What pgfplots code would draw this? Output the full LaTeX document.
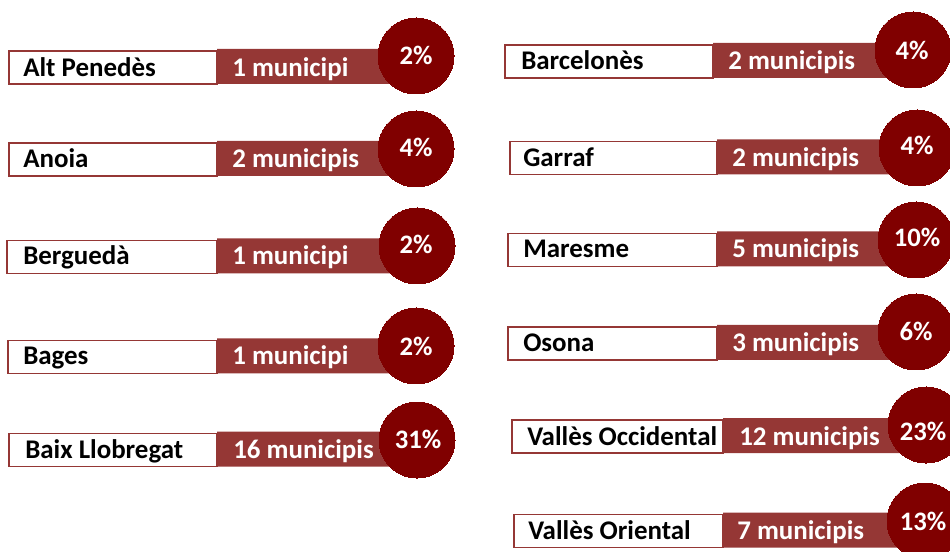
\documentclass[border=0pt]{standalone}
\usepackage{fontspec}
\setmainfont{Carlito}
\usepackage{pgfplots}
\usepackage{pgfplotstable}
\pgfplotsset{compat=1.18}
\definecolor{barred}{HTML}{953735}
\definecolor{circred}{HTML}{800000}

% one row per comarca, positions in pixels of the 950x552 layout
\pgfplotstableread[col sep=comma]{
name,xl,xr,yc,cx,cy,lx,mx,ty,px,py,muni,pct
Alt Penedès,9,217,67.5,416,56,23,232,77,416,65,1 municipi,2
Anoia,9,217,159.5,416,149,23,232,168,416,157,2 municipis,4
Berguedà,7,217,257,417,246,23,232,265,416,254,1 municipi,2
Bages,8,217,357,416,346,23,232,365,416,355,1 municipi,2
Baix Llobregat,9,217,450,417,440,25,233,458,418,448,16 municipis,31
Barcelonès,505,713,61.5,913,50,521,728,70,912,60,2 municipis,4
Garraf,510,717,158,917,148,523,732,167,917,155,2 municipis,4
Maresme,508,717,250,916,240,523,732,258,917,247,5 municipis,10
Osona,508,717,343.5,916,332,523,732,352,916,340,3 municipis,6
Vallès Occidental,512,723,436.5,926,425,527,739,445,923,440,12 municipis,23
Vallès Oriental,514,723,531,925,521,528,737,539,923,530,7 municipis,13
}\rows

\pgfplotsset{
  panel/.style={scale only axis, width=712.5pt, height=414pt,
    xmin=0, xmax=950, ymin=0, ymax=552, y dir=reverse, hide axis},
}

\begin{document}
\begin{tikzpicture}
\begin{axis}[panel, xbar stacked, bar width=33]
  \addplot[draw=none, fill=none] table[x=xl, y=yc] \rows;
  \addplot[fill=white, draw=barred, line width=1.1pt]
    table[x expr=\thisrow{xr}-\thisrow{xl}, y=yc] \rows;
  \addplot[fill=barred, draw=none, bar width=35, bar shift=-1]
    table[x expr=\thisrow{cx}-\thisrow{xr}, y=yc] \rows;
\end{axis}
\begin{axis}[panel, clip marker paths=true]
  \addplot[only marks, mark=*, mark size=28.5pt, mark options={fill=circred, draw=circred, line width=0pt}]
    table[x=cx, y=cy] \rows;
  % comarca names
  \addplot[draw=none, mark=none, nodes near coords, point meta=explicit symbolic,
    nodes near coords align={anchor=base west},
    nodes near coords style={anchor=base west, inner sep=0pt, text=black,
      font=\fontsize{20.2}{24}\selectfont\bfseries}]
    table[x=lx, y=ty, meta=name] \rows;
  % number of municipalities
  \addplot[draw=none, mark=none, nodes near coords, point meta=explicit symbolic,
    nodes near coords align={anchor=base west},
    nodes near coords style={anchor=base west, inner sep=0pt, text=white,
      font=\fontsize{20.2}{24}\selectfont\bfseries}]
    table[x=mx, y=ty, meta=muni] \rows;
  % share
  \addplot[draw=none, mark=none, nodes near coords={\pgfplotspointmeta\%}, point meta=explicit symbolic,
    nodes near coords align={anchor=base},
    nodes near coords style={anchor=base, inner sep=0pt, text=white,
      font=\fontsize{20}{24}\selectfont\bfseries}]
    table[x=px, y=py, meta=pct] \rows;
  \coordinate (c1) at (rel axis cs:0,0);
  \coordinate (c2) at (rel axis cs:1,1);
\end{axis}
\pgfresetboundingbox
\useasboundingbox (c1) rectangle (c2);
\end{tikzpicture}
\end{document}
